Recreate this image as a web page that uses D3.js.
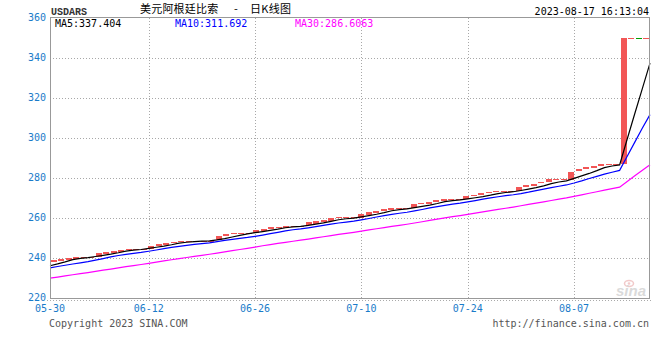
<!DOCTYPE html>
<html>
<head>
<meta charset="utf-8">
<script src="https://cdn.jsdelivr.net/npm/d3@7/dist/d3.min.js"></script>
<style>
  html, body { margin: 0; padding: 0; background: #fff; }
  svg { display: block; }
  .mono { font-family: "DejaVu Sans Mono", "Liberation Mono", monospace; font-size: 10px; }
</style>
</head>
<body>
<svg id="chart" width="660" height="360"></svg>
<script>
// ---------------- data ----------------
const symbol = "USDARS";
const titleName = "美元阿根廷比索";
const titleKind = "日K线图";
const stamp = "2023-08-17 16:13:04";
const startDate = "2023-05-30";
const endDate = "2023-08-17";

// daily opens / closes 05-30 .. 08-17 (calendar days, weekends flat)
const opens = [
  237.8, 238.3, 239.0, 239.6, 240.5, 240.5, 240.5, 242.0, 242.6, 243.2,
  244.0, 244.6, 244.6, 244.6, 246.0, 246.5, 247.3, 248.0, 248.5, 248.5,
  248.3, 248.6, 249.0, 251.0, 251.8, 252.5, 252.5, 252.5, 253.6, 254.2,
  255.2, 254.9, 256.1, 256.1, 256.1, 257.2, 258.1, 258.6, 259.6, 260.3,
  260.3, 260.2, 261.7, 262.5, 263.3, 264.1, 264.9, 264.9, 265.0, 266.9,
  267.2, 268.0, 268.3, 269.4, 269.4, 269.2, 270.8, 271.3, 272.2, 273.0,
  273.5, 273.5, 273.5, 275.2, 276.0, 277.2, 277.7, 279.3, 279.3, 279.3,
  283.2, 284.2, 285.2, 286.3, 287.07, 287.07, 287.07, 350.0, 350.0, 350.0
];
const closes = [
  238.8, 239.4, 240.0, 240.5, 240.5, 240.5, 242.3, 242.9, 243.4, 244.1,
  244.6, 244.6, 244.6, 246.2, 246.9, 247.5, 248.0, 248.5, 248.5, 248.5,
  248.6, 248.6, 251.0, 251.8, 252.5, 252.5, 252.5, 254.0, 254.6, 255.4,
  255.6, 256.1, 256.1, 256.1, 257.8, 258.5, 259.1, 259.9, 260.3, 260.3,
  260.3, 262.2, 263.0, 263.6, 264.4, 264.9, 264.9, 264.9, 266.9, 267.5,
  268.2, 268.8, 269.4, 269.4, 269.4, 270.9, 271.5, 272.3, 272.9, 273.5,
  273.5, 273.5, 275.4, 276.3, 277.2, 277.9, 279.3, 279.3, 279.3, 283.2,
  284.3, 285.3, 286.2, 287.07, 287.07, 287.07, 350.0, 350.0, 349.95, 350.0
];
// closes before the window (05-01 .. 05-29), used for the moving averages
const priorCloses = [
  222.3, 222.9, 223.4, 224.0, 224.6, 224.6, 224.6, 226.0, 226.6, 227.2,
  227.8, 228.4, 228.4, 228.4, 229.9, 230.5, 231.1, 231.7, 232.3, 232.3,
  232.3, 233.6, 234.2, 234.8, 234.8, 234.8, 234.8, 234.8, 237.4
];

const maPeriods = [5, 10, 30];
const maNames = ["MA5", "MA10", "MA30"];
const maLegendValues = ["337.404", "311.692", "286.6063"];
const maColors = ["#000000", "#0000ff", "#ff00ff"];

const yTicks = [220, 240, 260, 280, 300, 320, 340, 360];
const xTickLabels = ["05-30", "06-12", "06-26", "07-10", "07-24", "08-07"];

// ---------------- layout ----------------
const L = 50, R = 650, T = 18, B = 298;
const parse = d3.timeParse("%Y-%m-%d");
const d0 = parse(startDate), d1 = parse(endDate);
const days = d3.timeDay.range(d0, d3.timeDay.offset(d1, 1));

const svg = d3.select("#chart");

const y = d3.scaleLinear().domain([220, 360]).range([B, T]);
const xt = d3.scaleTime().domain([d0, d1]).range([L, R]);
const xb = d3.scaleBand().domain(d3.range(closes.length)).range([L, R])
  .paddingInner(0.2).paddingOuter(0.1);

const candles = closes.map((c, i) => ({ i, date: days[i], close: c, open: opens[i] }));

const all = priorCloses.concat(closes);
const off = priorCloses.length;
const maSeries = maPeriods.map(n => closes.map((c, i) => ({
  date: days[i],
  v: d3.mean(all.slice(i + off - n + 1, i + off + 1))
})));

const labelBlue = "#1a7bc9";
const gridColor = "#a8a8a8";

// ---------------- grid ----------------
const grid = svg.append("g");
grid.selectAll("line.h").data(yTicks.filter(v => v > 220 && v < 360)).join("line")
  .attr("x1", L).attr("x2", R)
  .attr("y1", d => Math.round(y(d)) + 0.5).attr("y2", d => Math.round(y(d)) + 0.5)
  .attr("stroke", gridColor).attr("stroke-dasharray", "1,2").attr("shape-rendering", "crispEdges");

const tickDates = xTickLabels.map(s => parse("2023-" + s));
grid.selectAll("line.v").data(tickDates.slice(1)).join("line")
  .attr("x1", d => Math.round(xt(d)) + 0.5).attr("x2", d => Math.round(xt(d)) + 0.5)
  .attr("y1", T).attr("y2", B)
  .attr("stroke", gridColor).attr("stroke-dasharray", "1,2").attr("shape-rendering", "crispEdges");

// ---------------- watermark ----------------
const wm = svg.append("g").attr("opacity", 0.55);
wm.append("ellipse").attr("cx", 629).attr("cy", 283.5).attr("rx", 4.5).attr("ry", 3)
  .attr("fill", "none").attr("stroke", "#e8a0a0").attr("stroke-width", 1.5);
wm.append("circle").attr("cx", 629).attr("cy", 283.5).attr("r", 1.3).attr("fill", "#e8a0a0");
wm.append("text").attr("x", 616).attr("y", 296)
  .style("font-family", "Arial, 'Liberation Sans', sans-serif")
  .style("font-size", "15px").style("font-style", "italic").style("font-weight", "bold")
  .attr("fill", "#bdbdbd").text("sina");

// ---------------- candles ----------------
const up = "#f25656", down = "#00a000";
svg.append("g").selectAll("rect").data(candles).join("rect")
  .attr("x", d => Math.round(xb(d.i)))
  .attr("width", Math.round(xb.bandwidth()))
  .attr("y", d => Math.round(y(Math.max(d.open, d.close))))
  .attr("height", d => Math.max(1, Math.round(Math.abs(y(d.open) - y(d.close)))))
  .attr("fill", d => d.close >= d.open ? up : down)
  .attr("shape-rendering", "crispEdges");

// ---------------- moving averages ----------------
const line = d3.line().x(d => xt(d.date)).y(d => y(d.v));
svg.append("g").selectAll("path").data(maSeries).join("path")
  .attr("d", line)
  .attr("fill", "none")
  .attr("stroke", (d, k) => maColors[k])
  .attr("stroke-width", 1.2);

// ---------------- frame ----------------
svg.append("path")
  .attr("d", `M${L + 0.5},${B + 0.5}V${T - 0.5}H${R - 0.5}V${B + 0.5}H${L + 0.5}`)
  .attr("fill", "none").attr("stroke", "#999").attr("shape-rendering", "crispEdges");
svg.append("line").attr("x1", L - 3).attr("x2", R + 1).attr("y1", B + 2.5).attr("y2", B + 2.5)
  .attr("stroke", "#aaa").attr("stroke-dasharray", "1,2").attr("shape-rendering", "crispEdges");

// ---------------- axes labels ----------------
svg.append("g").selectAll("text").data(yTicks).join("text")
  .attr("class", "mono")
  .attr("x", L - 4).attr("y", d => y(d) + 2.5)
  .attr("text-anchor", "end").attr("fill", labelBlue)
  .text(d => d);

svg.append("g").selectAll("text").data(tickDates).join("text")
  .attr("class", "mono")
  .attr("x", d => xt(d)).attr("y", 312)
  .attr("text-anchor", "middle").attr("fill", labelBlue)
  .text((d, k) => xTickLabels[k]);

// ---------------- titles ----------------
svg.append("text").attr("x", 51).attr("y", 15)
  .style("font-family", "'Liberation Mono', 'DejaVu Sans Mono', monospace")
  .style("font-size", "10px").style("font-weight", "bold")
  .attr("fill", "#333").text(symbol);

const cjk = "'Noto Sans CJK SC', sans-serif";
svg.append("text").attr("x", 140).attr("y", 12.5)
  .style("font-family", cjk).style("font-size", "11px").attr("letter-spacing", "0.2")
  .attr("fill", "#000").text(titleName);
svg.append("text").attr("x", 234).attr("y", 12.5)
  .style("font-family", cjk).style("font-size", "11px")
  .attr("fill", "#000").text("-");
svg.append("text").attr("x", 250).attr("y", 12.5)
  .style("font-family", cjk).style("font-size", "11px").attr("letter-spacing", "0.3")
  .attr("fill", "#000").text(titleKind);

svg.append("text").attr("class", "mono").attr("x", 649).attr("y", 15)
  .attr("text-anchor", "end").attr("fill", "#000").text(stamp);

// legend
const legendX = [55, 175, 295];
svg.append("g").selectAll("text").data(maNames).join("text")
  .attr("class", "mono")
  .attr("x", (d, k) => legendX[k]).attr("y", 27)
  .attr("fill", (d, k) => maColors[k])
  .text((d, k) => d + ":" + maLegendValues[k]);

// footer
svg.append("text").attr("class", "mono").attr("x", 49).attr("y", 327)
  .attr("fill", "#555").text("Copyright 2023 SINA.COM");
svg.append("text").attr("class", "mono").attr("x", 649).attr("y", 327)
  .attr("text-anchor", "end").attr("fill", "#555").text("http://finance.sina.com.cn");
</script>
</body>
</html>
